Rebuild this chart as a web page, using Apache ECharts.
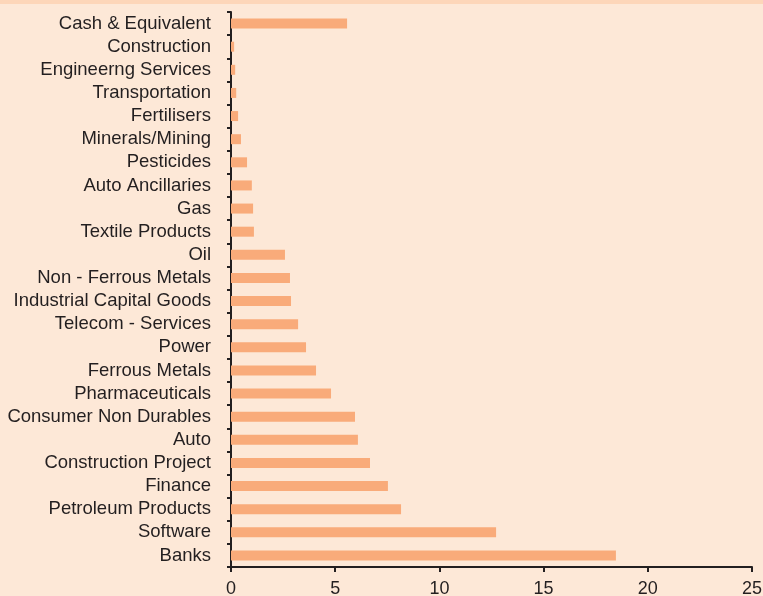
<!DOCTYPE html>
<html>
<head>
<meta charset="utf-8">
<script src="https://cdn.jsdelivr.net/npm/echarts@6/dist/echarts.min.js"></script>
<style>
  html, body { margin: 0; padding: 0; background: #fde8d7; }
  #chart { width: 763px; height: 596px; }
</style>
</head>
<body>
<div id="chart"></div>
<script>
// sectors, top to bottom as in the picture
var sectors = ['Cash & Equivalent', 'Construction', 'Engineerng Services', 'Transportation',
    'Fertilisers', 'Minerals/Mining', 'Pesticides', 'Auto Ancillaries', 'Gas',
    'Textile Products', 'Oil', 'Non - Ferrous Metals', 'Industrial Capital Goods',
    'Telecom - Services', 'Power', 'Ferrous Metals', 'Pharmaceuticals',
    'Consumer Non Durables', 'Auto', 'Construction Project', 'Finance',
    'Petroleum Products', 'Software', 'Banks'];
var weights = [5.57, 0.15, 0.2, 0.25, 0.34, 0.48, 0.77, 1.0, 1.06, 1.1, 2.59, 2.83, 2.88,
    3.22, 3.6, 4.08, 4.8, 5.95, 6.09, 6.67, 7.53, 8.16, 12.72, 18.47];
var xTicks = [0, 5, 10, 15, 20, 25];

var chart = echarts.init(document.getElementById('chart'));

var option = {
    backgroundColor: '#fde8d7',
    textStyle: { fontFamily: 'Liberation Sans, Arial, sans-serif' },
    graphic: [{
        type: 'rect',
        shape: { x: 0, y: 0, width: 763, height: 4 },
        style: { fill: '#fdd6b9' }
    }],
    grid: { left: 231, right: 11, top: 12, bottom: 29, outerBoundsMode: 'none' },
    xAxis: {
        type: 'value',
        min: xTicks[0],
        max: xTicks[xTicks.length - 1],
        interval: 5,
        splitLine: { show: false },
        axisLine: { show: true, lineStyle: { color: '#231f20', width: 2 } },
        axisTick: { show: true, length: 5, lineStyle: { color: '#231f20', width: 2 } },
        axisLabel: { color: '#231f20', fontSize: 18, margin: 13 }
    },
    yAxis: {
        type: 'category',
        inverse: true,
        data: sectors,
        axisLine: { lineStyle: { color: '#231f20', width: 2 } },
        axisTick: { show: true, length: 4, interval: 0, lineStyle: { color: '#231f20', width: 2 } },
        axisLabel: { color: '#231f20', fontSize: 18.5, margin: 20, interval: 0 }
    },
    series: [{
        type: 'bar',
        data: weights,
        barWidth: 10,
        itemStyle: { color: '#f9ab7a' },
        silent: true
    }]
};

chart.setOption(option);
</script>
</body>
</html>
